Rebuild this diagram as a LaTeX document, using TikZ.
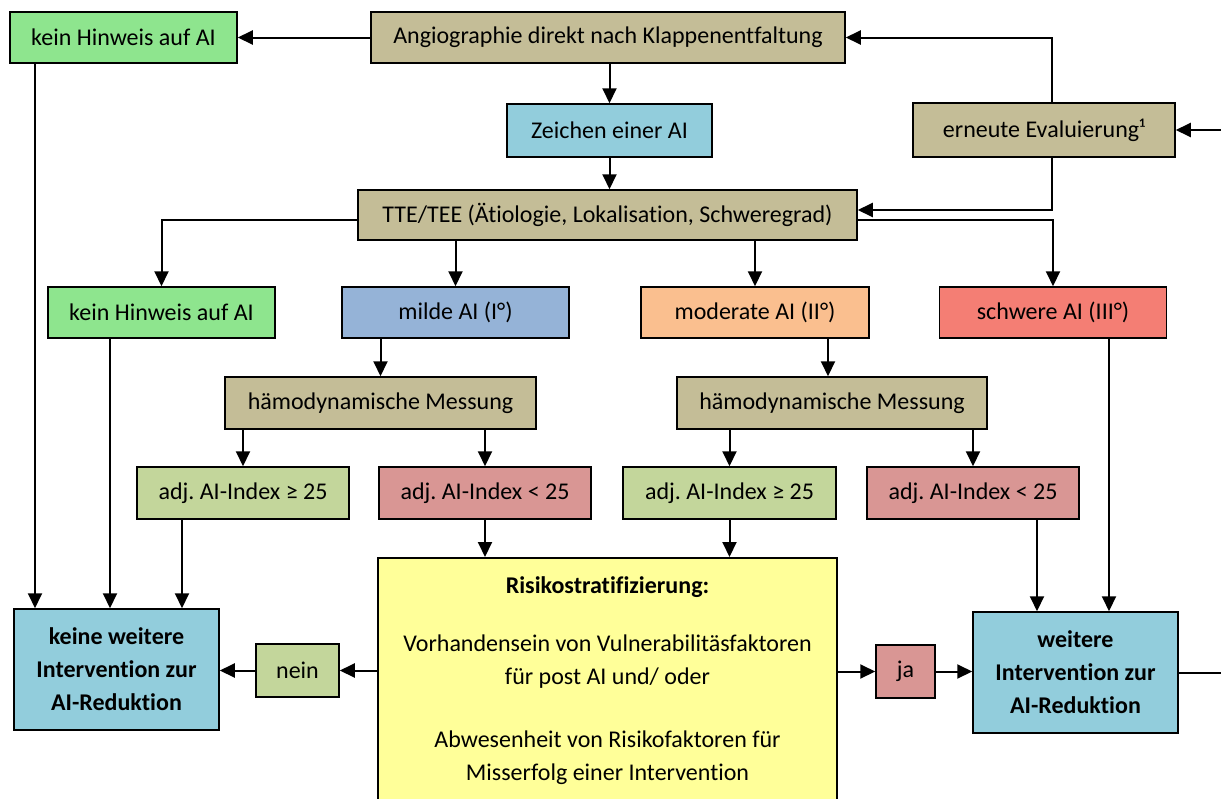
\documentclass[tikz,border=0pt]{standalone}
\usepackage{fontspec}
\setmainfont{Carlito}[Ligatures=NoCommon]
\frenchspacing
\usetikzlibrary{arrows.meta,calc}
\definecolor{tan}{HTML}{C4BD97}
\definecolor{khgreen}{HTML}{8EE58E}
\definecolor{zblue}{HTML}{92CDDC}
\definecolor{mildblue}{HTML}{95B3D7}
\definecolor{modorange}{HTML}{FABF8F}
\definecolor{sevred}{HTML}{F47E74}
\definecolor{adjgreen}{HTML}{C3D69B}
\definecolor{adjred}{HTML}{D99694}
\definecolor{riskyellow}{HTML}{FFFF99}
\tikzset{
  box/.style={draw=black, line width=1.5pt, inner sep=0pt, align=center,
    font=\fontsize{24}{33}\selectfont},
  bbox/.style={box, font=\fontsize{24}{33}\selectfont\bfseries},
  conn/.style={line width=2pt, line join=miter},
  arr/.style={conn, -{Triangle[length=15pt,width=14pt]}},
}
\begin{document}
\begin{tikzpicture}[x=1pt,y=-1pt]
\useasboundingbox (0,0) rectangle (1221,798);
\clip (0,0) rectangle (1221,798);
\fill[white] (0,0) rectangle (1221,798);
% nodes
\node[box, fill=khgreen, minimum width=227pt, minimum height=51pt] (kh1) at (123.5,37.5) {kein Hinweis auf AI};
\node[box, fill=tan, minimum width=474pt, minimum height=51pt] (angio) at (608,37.5) {Angiographie direkt nach Klappenentfaltung};
\node[box, fill=zblue, minimum width=205pt, minimum height=53pt] (zeichen) at (609.5,130.5) {Zeichen einer AI};
\node[box, fill=tan, minimum width=262pt, minimum height=54pt] (ern) at (1044,130) {erneute Evaluierung¹};
\node[box, fill=tan, minimum width=499pt, minimum height=50pt] (tte) at (607.5,215) {TTE/TEE (Ätiologie, Lokalisation, Schweregrad)};
\node[box, fill=khgreen, minimum width=227pt, minimum height=51pt] (kh2) at (161.5,312.5) {kein Hinweis auf AI};
\node[box, fill=mildblue, minimum width=227pt, minimum height=51pt] (milde) at (455.5,312.5) {milde AI (I°)};
\node[box, fill=modorange, minimum width=228pt, minimum height=51pt] (moder) at (755,312.5) {moderate AI (II°)};
\node[box, fill=sevred, minimum width=227pt, minimum height=51pt] (schwer) at (1053,312.5) {schwere AI (III°)};
\node[box, fill=tan, minimum width=311pt, minimum height=52pt] (hmA) at (380.5,403) {hämodynamische Messung};
\node[box, fill=tan, minimum width=310pt, minimum height=52pt] (hmB) at (832,403) {hämodynamische Messung};
\node[box, fill=adjgreen, minimum width=212pt, minimum height=52pt] (a1g) at (243,493) {adj. AI-Index ≥ 25};
\node[box, fill=adjred, minimum width=212pt, minimum height=52pt] (a1l) at (485,493) {adj. AI-Index < 25};
\node[box, fill=adjgreen, minimum width=213pt, minimum height=52pt] (a2g) at (729.5,493) {adj. AI-Index ≥ 25};
\node[box, fill=adjred, minimum width=212pt, minimum height=52pt] (a2l) at (973,493) {adj. AI-Index < 25};
\node[box, fill=riskyellow, minimum width=459pt, minimum height=280pt, anchor=north] (risk) at (607.5,557) {};
\node[anchor=north, align=center, inner sep=0pt, font=\fontsize{24}{33}\selectfont] (risktext) at (607.5,576.5)
  {\textbf{Risikostratifizierung:}\\[25pt]Vorhandensein von Vulnerabilitäsfaktoren\\für post AI und/ oder\\[30pt]Abwesenheit von Risikofaktoren für\\Misserfolg einer Intervention};
\node[bbox, fill=zblue, minimum width=205pt, minimum height=121pt] (keine) at (116.5,669.5) {keine weitere\\Intervention zur\\AI-Reduktion};
\node[bbox, fill=zblue, minimum width=205pt, minimum height=121pt] (weitere) at (1075.5,672.5) {weitere\\Intervention zur\\AI-Reduktion};
\node[box, fill=adjgreen, minimum width=83pt, minimum height=53pt] (nein) at (297.5,670.5) {nein};
\node[box, fill=adjred, minimum width=59pt, minimum height=53pt] (ja) at (905.5,671.5) {ja};
% helper coordinates
\coordinate (vx) at (1052,0);
\coordinate (inR) at (1221,130);
\coordinate (outR) at (1221,672.5);
\coordinate (k1x) at (35,0);
\coordinate (k2x) at (110,0);
\coordinate (g1x) at (182,0);
\coordinate (l2x) at (1037,0);
\coordinate (sx) at (1109,0);
\coordinate (hbx) at (828,0);
% connectors
\draw[arr] (angio.west) -- (kh1.east);
\draw[arr] (vx |- ern.north) |- (angio.east);
\draw[arr] (inR) -- (ern.east);
\draw[arr] (vx |- ern.south) |- ($(tte.east)+(0,-5)$);
\draw[arr] ($(tte.east)+(0,5)$) -| (schwer.north);
\draw[arr] ($(tte.west)+(0,5)$) -| (kh2.north);
\draw[arr] (zeichen.north |- angio.south) -- (zeichen.north);
\draw[arr] (zeichen.south) -- (zeichen.south |- tte.north);
\draw[arr] (milde.north |- tte.south) -- (milde.north);
\draw[arr] (moder.north |- tte.south) -- (moder.north);
\draw[arr] (hmA.north |- milde.south) -- (hmA.north);
\draw[arr] (hbx |- moder.south) -- (hbx |- hmB.north);
\draw[arr] (a1g.north |- hmA.south) -- (a1g.north);
\draw[arr] (a1l.north |- hmA.south) -- (a1l.north);
\draw[arr] (a2g.north |- hmB.south) -- (a2g.north);
\draw[arr] (a2l.north |- hmB.south) -- (a2l.north);
\draw[arr] (a1l.south) -- (a1l.south |- risk.north);
\draw[arr] (a2g.south) -- (a2g.south |- risk.north);
\draw[arr] (k1x |- kh1.south) -- (k1x |- keine.north);
\draw[arr] (k2x |- kh2.south) -- (k2x |- keine.north);
\draw[arr] (g1x |- a1g.south) -- (g1x |- keine.north);
\draw[arr] (l2x |- a2l.south) -- (l2x |- weitere.north);
\draw[arr] (sx |- schwer.south) -- (sx |- weitere.north);
\draw[arr] (risk.west |- nein) -- (nein.east);
\draw[arr] (nein.west) -- (nein.west -| keine.east);
\draw[arr] (risk.east |- ja) -- (ja.west);
\draw[arr] (ja.east) -- (ja.east -| weitere.west);
\draw[conn] (weitere.east) -- (outR);
\end{tikzpicture}
\end{document}
